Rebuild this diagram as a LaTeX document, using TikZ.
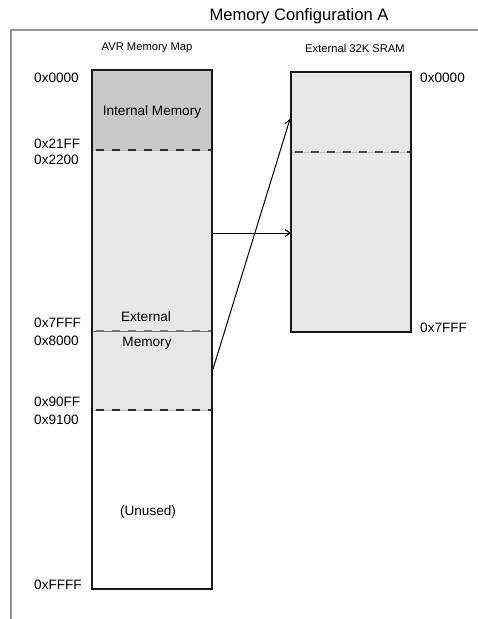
\documentclass[tikz,border=0pt]{standalone}
\usepackage{fontspec}
\setmainfont{Liberation Sans}
\usetikzlibrary{arrows.meta}
\definecolor{intgray}{RGB}{200,200,202}
\definecolor{extgray}{RGB}{230,231,233}
\definecolor{framegray}{RGB}{150,150,150}
\definecolor{dashgray}{RGB}{45,45,45}
\begin{document}
\begin{tikzpicture}[x=1pt,y=-1pt,
  addr/.style={font=\fontsize{13.6}{15}\selectfont, inner sep=0pt},
  lbl/.style={font=\fontsize{13.6}{15}\selectfont, inner sep=0pt},
  head/.style={font=\fontsize{11.2}{13}\selectfont, inner sep=0pt},
  sepbase/.style={line width=1pt, draw=black!28},
  sep/.style={dash pattern=on 8pt off 8pt, line width=1.5pt, draw=dashgray},
  septhin/.style={line width=0.4pt, draw=black!55},
  seplight/.style={dash pattern=on 8pt off 8pt, line width=1.5pt, draw=black!55},
  outline/.style={draw=black!90, line width=1.5pt},
  conn/.style={line width=1pt, -{Straight Barb[length=5pt,width=7pt,line width=1.1pt]}}]
\useasboundingbox (0,0) rectangle (478,619);
% frame
\draw[framegray, line width=1.3pt] (478,30) -- (11,30) -- (11,619);
% title
\node[font=\fontsize{16.6}{19}\selectfont, inner sep=0pt] (title) at (299,16) {Memory Configuration A};
\node[head] (avrhead) at (147,48) {AVR Memory Map};
\node[head] (sramhead) at (355,48) {External 32K SRAM};
% AVR memory regions
\path[fill=intgray] (92,70) rectangle (212,150);
\path[fill=extgray] (92,150) rectangle (212,410);
\coordinate (avrNW) at (92,70);
\coordinate (avrSE) at (212,589);
\draw[sepbase] (92,150) -- (212,150);
\draw[sep] (96,150) -- (212,150);
\draw[septhin] (92,331) -- (212,331);
\draw[seplight] (96,331) -- (212,331);
\draw[sepbase] (92,410) -- (212,410);
\draw[sep] (96,410) -- (212,410);
\draw[outline] (avrNW) rectangle (avrSE);
% SRAM
\coordinate (sramNW) at (291,72);
\coordinate (sramSE) at (411,332);
\path[fill=extgray] (sramNW) rectangle (sramSE);
\draw[sepbase] (291,152) -- (411,152);
\draw[sep, draw=dashgray!85] (295,152) -- (411,152);
\draw[outline] (sramNW) rectangle (sramSE);
% region labels
\node[lbl] (intlbl) at (152,112) {Internal Memory};
\node[lbl] (extlbl1) at (146,317) {External};
\node[lbl] (extlbl2) at (147,343) {Memory};
\node[lbl] (unused) at (148,512) {(Unused)};
% address labels
\node[addr, anchor=west] (a0) at (34,78) {0x0000};
\node[addr, anchor=west] (a21) at (34,144) {0x21FF};
\node[addr, anchor=west] (a22) at (34,160) {0x2200};
\node[addr, anchor=west] (a7f) at (34,323) {0x7FFF};
\node[addr, anchor=west] (a80) at (34,341) {0x8000};
\node[addr, anchor=west] (a90) at (34,402) {0x90FF};
\node[addr, anchor=west] (a91) at (34,420) {0x9100};
\node[addr, anchor=west] (aff) at (34,585) {0xFFFF};
\node[addr, anchor=west] (s0) at (420,78) {0x0000};
\node[addr, anchor=west] (s7f) at (420,328) {0x7FFF};
% connectors
\coordinate (hA) at (213,233);
\coordinate (hB) at (291,233);
\coordinate (dA) at (213,369);
\coordinate (dB) at (290,119);
\draw[conn] (hA) -- (hB);
\draw[conn] (dA) -- (dB);
\end{tikzpicture}
\end{document}
